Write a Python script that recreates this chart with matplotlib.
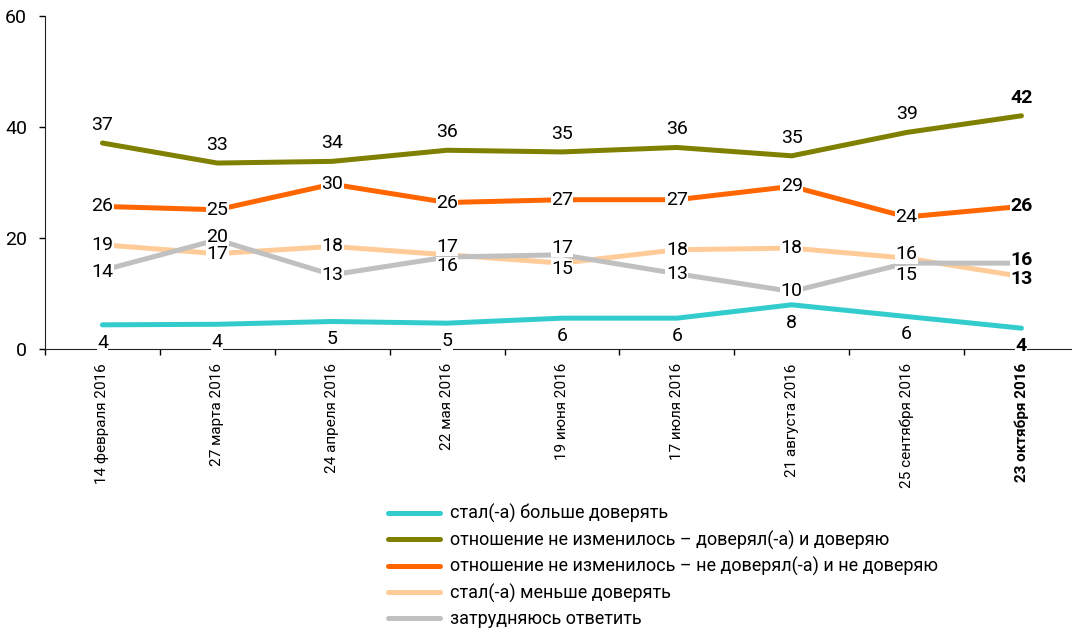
import matplotlib
matplotlib.use("Agg")
import matplotlib.pyplot as plt
import numpy as np

# --- DATA ---
dates = ["14 февраля 2016", "27 марта 2016", "24 апреля 2016", "22 мая 2016",
         "19 июня 2016", "17 июля 2016", "21 августа 2016", "25 сентября 2016",
         "23 октября 2016"]

more_trust = [4.4, 4.5, 5.0, 4.7, 5.6, 5.6, 8.0, 5.9, 3.8]
same_trust = [37.1, 33.5, 33.8, 35.8, 35.5, 36.3, 34.8, 39.0, 42.0]
same_distrust = [25.7, 25.1, 29.7, 26.4, 26.9, 26.9, 29.3, 23.8, 25.7]
less_trust = [18.8, 17.2, 18.5, 17.0, 15.5, 17.9, 18.2, 16.4, 13.1]
hard_to_say = [14.2, 19.7, 13.4, 16.6, 17.0, 13.6, 10.4, 15.5, 15.5]

more_lbl = [4, 4, 5, 5, 6, 6, 8, 6, 4]
same_trust_lbl = [37, 33, 34, 36, 35, 36, 35, 39, 42]
same_distrust_lbl = [26, 25, 30, 26, 27, 27, 29, 24, 26]
less_lbl = [19, 17, 18, 17, 15, 18, 18, 16, 13]
hard_lbl = [14, 20, 13, 16, 17, 13, 10, 15, 16]

names = ["стал(-а) больше доверять",
         "отношение не изменилось – доверял(-а) и доверяю",
         "отношение не изменилось – не доверял(-а) и не доверяю",
         "стал(-а) меньше доверять",
         "затрудняюсь ответить"]

# --- STYLE ---
colors = ["#33CCCC", "#808000", "#FF6600", "#FFCC99", "#C0C0C0"]
# vertical label offsets in pixels (positive = up)
offsets = [
    [-18] * 9,
    [18] * 9,
    [0] * 9,
    [0, 0, 0, 8, -6, 0, 0, 4, -3],
    [-2, 3, 0, -9, 7, 0, 0, -12, 3],
]

FONT = ["Roboto", "DejaVu Sans"]
plt.rcParams['font.family'] = FONT

fig = plt.figure(figsize=(10.72, 6.29), dpi=100)
ax = fig.add_axes([45 / 1072, (629 - 349.3) / 629, (1072 - 45) / 1072, 333.6 / 629])

x = np.arange(len(dates))
series = [more_trust, same_trust, same_distrust, less_trust, hard_to_say]
labels = [more_lbl, same_trust_lbl, same_distrust_lbl, less_lbl, hard_lbl]

lines = []
for vals, col, name in zip(series, colors, names):
    ln, = ax.plot(x, vals, color=col, lw=3.6, solid_capstyle='round', label=name, zorder=2)
    lines.append(ln)

for vals, lbls, offs in zip(series, labels, offsets):
    for i, (v, lb, off) in enumerate(zip(vals, lbls, offs)):
        ax.annotate(str(lb), (i, v), xytext=(0, off * 0.72), textcoords='offset points',
                    ha='center', va='center', fontsize=14,
                    fontweight='bold' if i == len(vals) - 1 else 'normal',
                    bbox=dict(boxstyle='square,pad=0.02', fc='white', ec='none'),
                    zorder=4, annotation_clip=False)

ax.set_xlim(-0.5, 8.44)
ax.set_ylim(0, 60)
ax.set_yticks([0, 20, 40, 60])
ax.tick_params(axis='y', labelsize=14, length=4, pad=9, width=1)

ax.set_xticks(x)
ax.set_xticklabels(dates, rotation=90, fontsize=11, va='top', ha='center')
for t in ax.get_xticklabels()[-1:]:
    t.set_fontweight('bold')
ax.tick_params(axis='x', which='major', length=0, pad=10)
ax.set_xticks(np.arange(-0.5, 8.5, 1), minor=True)
ax.tick_params(axis='x', which='minor', length=4, width=1)

for s in ['top', 'right']:
    ax.spines[s].set_visible(False)
ax.spines['left'].set_color('#222222')
ax.spines['bottom'].set_color('#222222')

leg = fig.legend(handles=lines, loc='upper left', bbox_to_anchor=(388 / 1072, 1 - 504 / 629),
                 frameon=False, fontsize=13, handlelength=2.9, handletextpad=0.55,
                 labelspacing=0.41, borderpad=0, borderaxespad=0)

fig.savefig("out.png", dpi=100)
